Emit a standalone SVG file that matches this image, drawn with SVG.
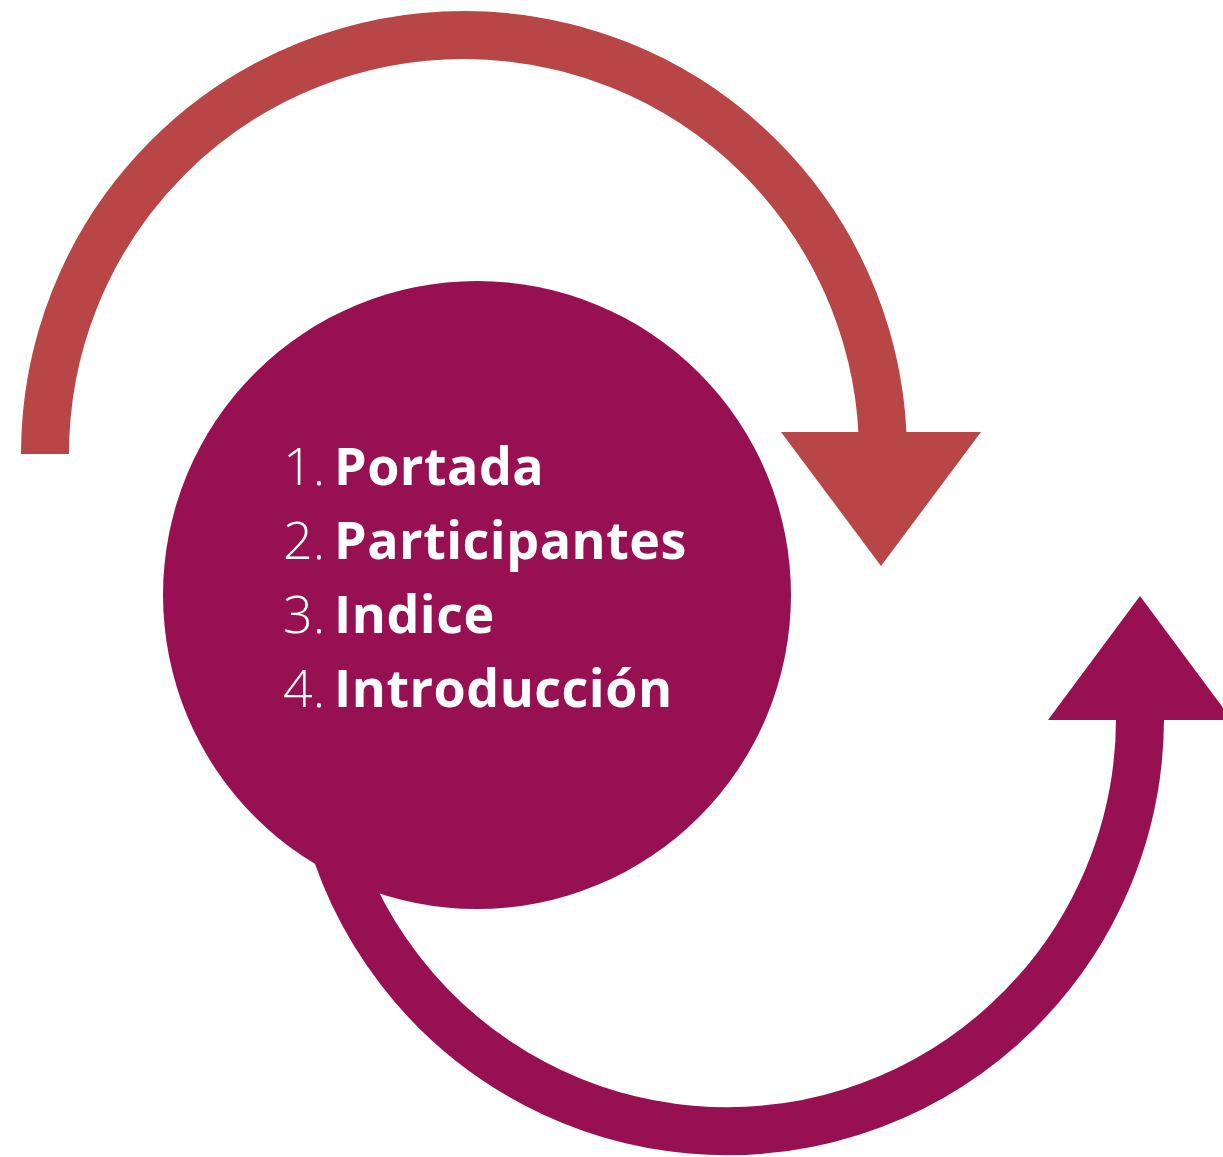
<svg xmlns="http://www.w3.org/2000/svg" width="1223" height="1157" viewBox="0 0 1223 1157">
  <style>
    .arc { fill: none; stroke-width: 48; }
    .red { stroke: #B94646; }
    .pur { stroke: #961052; }
    .num { font-family: "Open Sans", "Liberation Sans", sans-serif; font-weight: 300; font-size: 52px; fill: #FFFFFF; }
    .lbl { font-family: "Open Sans", "Liberation Sans", sans-serif; font-weight: 700; font-size: 52px; letter-spacing: 0.5px; fill: #FFFFFF; }
  </style>
  <g id="connectors">
    <path id="arc-top" class="arc red" d="M 45 454 A 419 419 0 0 1 883 454"/>
    <polygon id="arrow-top" points="781,432 981,432 881,566" fill="#B94646"/>
    <path id="arc-bottom" class="arc pur" d="M 1140 719 L 1140 720 A 413 413 0 1 1 320 648"/>
    <polygon id="arrow-bottom" points="1048,720 1232,720 1140,596" fill="#961052"/>
  </g>
  <g id="node-center">
    <circle cx="477" cy="595" r="314" fill="#961052"/>
    <text class="num" x="283" y="485">1.</text><text class="lbl" x="334" y="485">Portada</text>
    <text class="num" x="283" y="559">2.</text><text class="lbl" x="334" y="559">Participantes</text>
    <text class="num" x="283" y="633">3.</text><text class="lbl" x="334" y="633">Indice</text>
    <text class="num" x="283" y="707">4.</text><text class="lbl" x="334" y="707">Introducción</text>
  </g>
</svg>
